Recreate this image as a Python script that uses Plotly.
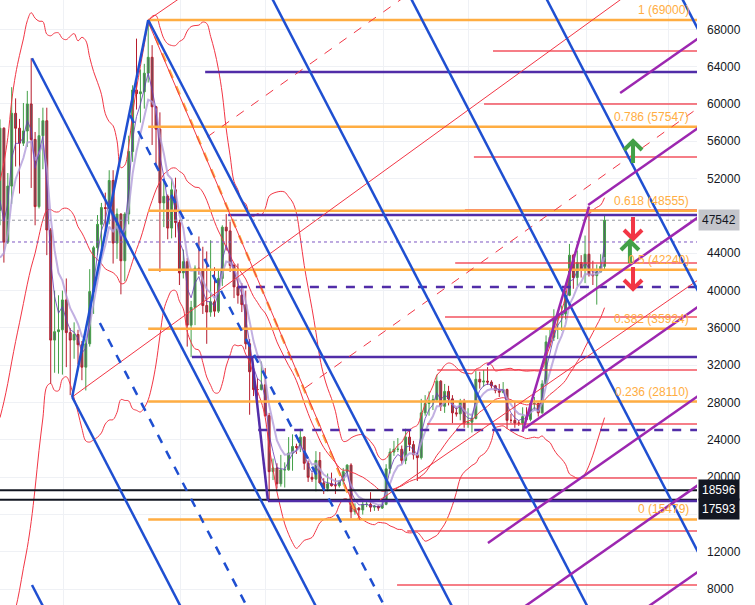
import numpy as np
import pandas as pd
import plotly.graph_objects as go

# ---------------- weekly BTC candles (index 0 = week of 15 Feb 2021) ----------------
open_ = [48600,57400,45200,51200,59000,57400,55800,57100,60000,56200,49000,56600,58200,46500,34700,35600,35800,39000,35500,34700,
         35300,34200,31800,34300,39900,44600,47100,48900,48800,51800,45100,48200,43200,48200,54900,61500,61100,61300,63300,65000,
         59700,57300,49400,50100,46700,50800,47300,41900,43100,36300,38200,42400,42200,38400,37700,38800,37800,41300,46800,46400,
         42700,40400,39500,38500,34300,31300,29400,29400,29900,26600,20600,21000,19300,20800,20800,22600,23300,23200,24300,21500,
         20000,19800,21800,19400,18800,19300,19100,19100,19600,20600,21300,16300,16700,16500,17100,17100,16800,16900,16700,17100,
         20900,22700,23000,23000,21800,24300,23500,22400,22100,26900,27900,28200,28300,30300,27600,29200,28400,26900,26800,28100,
         25800,25900,26300,30500,30200,30300,30200,29800,29300,29100,29400,26100,26100,25800,25800,26500,26200,27900,27900,26900,
         30000,34500,35000,37000,37400,37500,39500,43800,41400,43000,42300,43900,41700,41600,42000,42600]
high = [58350,57500,52600,61800,60600,58400,60100,61400,64900,57000,58500,59600,59600,46700,40000,39500,40000,41300,36000,36600,
        35800,34600,34800,42300,44800,48100,49400,50500,52900,52900,48800,48300,48400,56600,62000,67000,63700,64300,69000,66300,
        59800,59100,51900,50300,52000,52100,47600,44400,43500,38900,42700,45800,44700,44200,45400,42500,42300,47000,48200,47400,
        42900,42900,40800,40000,34800,31500,30600,32400,31700,26900,22000,21500,22400,21600,24300,24600,23600,25200,24400,21800,
        20500,22800,22700,19900,20400,20500,19900,19700,21000,21400,21500,17200,16800,17400,17400,18400,17000,17000,17400,21400,
        23100,23900,24200,23400,25200,25100,23900,22600,28400,28800,29200,28800,31000,30400,30000,29800,28800,27500,28400,28400,
        27400,26800,31400,31300,31500,31800,30400,29900,30000,30200,29500,26800,28200,26100,27500,27500,28000,28600,28000,30400,
        35200,35900,38000,37900,38400,40000,45000,43900,44300,43800,45900,49000,43200,42800,43900,48200]
low = [47000,43000,45000,49300,53300,50400,55500,55400,51000,47000,48800,53000,43800,30000,31200,31100,31000,31800,28800,32700,
       32100,30400,29300,34000,37500,43800,43900,46300,47100,42900,43400,39600,41000,47100,53800,59400,58000,59500,62300,55600,
       53500,42000,46800,45500,45600,45700,40600,41300,34000,32900,36300,41700,37500,34300,37200,37200,37600,40500,44300,42000,
       39200,38600,37700,33700,26700,28700,28000,29300,26500,17600,19700,18800,19000,18900,20700,20700,22500,22700,20800,19500,
       19500,18500,19300,18200,18500,19000,18200,18900,19200,20100,15600,16000,15500,16000,16800,16300,16400,16400,16600,17000,
       20400,22300,22700,21400,21400,22800,21900,19600,21900,26600,26600,27200,28200,27100,26900,27700,25800,26500,26100,25300,
       25300,24800,26200,29500,29700,29900,29500,29000,28600,29000,25200,25800,25300,25500,24900,26100,26000,27200,26500,26800,
       29900,33900,34600,34800,35700,36900,39400,40200,40500,41400,40800,41500,40600,38500,41900,42300]
close = [57400,45200,51200,59000,57400,55800,57100,60000,56200,49000,56600,58200,46500,34700,35600,35800,39000,35500,34700,35300,
         34200,31800,34300,39900,44600,47100,48900,48800,51800,45100,48200,43200,48200,54900,61500,61100,61300,63300,65000,59700,
         57300,49400,50100,46700,50800,47300,41900,43100,36300,38200,42400,42200,38400,37700,38800,37800,41300,46800,46400,42700,
         40400,39500,38500,34300,31300,29400,29400,29900,26600,20600,21000,19300,20800,20800,22600,23300,23200,24300,21500,20000,
         19800,21800,19400,18800,19300,19100,19100,19600,20600,21300,16300,16700,16500,17100,17100,16800,16900,16700,17100,20900,
         22700,23000,23000,21800,24300,23500,22400,22100,26900,27900,28200,28300,30300,27600,29200,28400,26900,26800,28100,25800,
         25900,26300,30500,30200,30300,30200,29800,29300,29100,29400,26100,26100,25800,25800,26500,26200,27900,27900,26900,30000,
         34500,35000,37000,37400,37500,39500,43800,41400,43000,42300,43900,41700,41600,42000,42600,47542]
# closes of the 19 weeks before the first candle (for the 20-week bands)
warmup_close = [11400,11500,13100,13800,15500,16000,18400,19700,19200,19200,23900,26300,33100,40200,36000,32300,34300,39300,47200]

# ---------------- drawings (week index, price) ----------------
fib_ratios = ["1", "0.786", "0.618", "0.5", "0.382", "0.236", "0"]
fib_prices = [69000, 57547, 48555, 42240, 35924, 28110, 15479]
fib_start = 38
fib_diag = [(38, 69000), (92, 15479)]

blue_solid = [(18.5, 28600, 38, 69000), (18.5, 28600, 46.5, 6000), (8.2, 64900, 81.2, 6000),
              (38, 69000, 116.1, 6000), (68.9, 72000, 150.8, 6000), (104.5, 72000, 186.4, 6000),
              (139.2, 72000, 221.1, 6000), (174, 72000, 256, 6000), (8.2, 8457, 11.25, 6000)]
blue_dashed = [(33.3, 58818, 98.8, 6000), (25.6, 36530, 63.5, 6000)]

violet_lines = [(159, 61175, 180, 67318), (150.8, 49175, 180, 57716), (124.9, 32030, 180, 48147),
                (134.6, 25280, 180, 38560), (125.1, 12957, 180, 29015), (134.0, 6000, 180, 19455),
                (165.7, 6000, 180, 10183), (134, 24900, 151, 49000)]

indigo_levels = [63425, 48102, 32887, 17457]
indigo_start = [52.6, 58.5, 49.2, 68.7]
indigo_dashed_levels = [40388, 25065]
indigo_dashed_start = [61, 66.2]
indigo_connector = [(64.6, 32887, 68.7, 17457)]

red_levels = [65675, 60000, 54318, 48638, 42959, 37173, 31495, 25709, 19922, 14243, 8457]
red_start = [126.4, 124.1, 121.5, 119.2, 116.7, 114.1, 112.1, 109.5, 106.9, 104.4, 101.8]
red_diag = [(38, 69000, 48.4, 72000), (18.5, 28600, 161.8, 72000), (38, 68783, 92.3, 15422),
            (97.4, 17560, 179, 41150)]
red_diag_dashed = [(53.1, 56460, 105.5, 72000), (78.2, 29566, 179, 59568)]

black_levels = [18596, 17593]
last_price = 47542
dotted_purple = 45210
arrows = [(162.3, 54745, "up"), (162.3, 46817, "down"), (161.5, 44031, "up"), (162.3, 41459, "down")]

y_ticks = list(range(8000, 68001, 4000))
hidden_ticks = [16000, 48000]
x_grid = [16.2, 46.2, 68, 98.2, 120, 150.3, 171.5]
X_MAX = 178.7

# ---------------- figure ----------------
n = len(close)
xs = list(range(n))
allc = pd.Series(warmup_close + close, dtype=float)
basis = allc.rolling(20).mean()
dev = allc.rolling(20).std(ddof=0)
upper = (basis + 2 * dev).iloc[-n:].values
lower = (basis - 2 * dev).iloc[-n:].values
basis = basis.iloc[-n:].values
ema_fast = allc.ewm(span=3, adjust=False).mean().iloc[-n:].values
ema_slow = allc.ewm(span=6, adjust=False).mean().iloc[-n:].values

fig = go.Figure()

RED = "#f23645"
BLUE = "#1f4fd1"
VIOLET = "#9c27b0"
INDIGO = "#512da8"
ORANGE = "#ffad42"


def seg(x0, y0, x1, y1, color, width, dash="solid", opacity=1.0):
    fig.add_trace(go.Scatter(x=[x0, x1], y=[y0, y1], mode="lines",
                             line=dict(color=color, width=width, dash=dash),
                             opacity=opacity, hoverinfo="skip", showlegend=False))


fig.add_trace(go.Candlestick(x=xs, open=open_, high=high, low=low, close=close,
                             increasing=dict(line=dict(color="#43a047", width=1), fillcolor="#59606a"),
                             decreasing=dict(line=dict(color="#b71c2c", width=1), fillcolor="#59606a"),
                             whiskerwidth=0, showlegend=False, hoverinfo="skip"))

for band in (upper, basis, lower):
    fig.add_trace(go.Scatter(x=xs, y=band, mode="lines", line=dict(color=RED, width=1, shape="spline"),
                             hoverinfo="skip", showlegend=False))
fig.add_trace(go.Scatter(x=xs, y=ema_slow, mode="lines", line=dict(color="#b39ddb", width=2),
                         opacity=0.8, hoverinfo="skip", showlegend=False))
fig.add_trace(go.Scatter(x=xs, y=ema_fast, mode="lines", line=dict(color="#673ab7", width=1),
                         opacity=0.8, hoverinfo="skip", showlegend=False))

# horizontal price lines
seg(0, last_price, X_MAX, last_price, "#9598a1", 1, "dot")
seg(0, dotted_purple, X_MAX, dotted_purple, "#7e57c2", 1, "dot")
for lv in black_levels:
    seg(0, lv, X_MAX, lv, "#131722", 2)

# red horizontal rays
for lv, st in zip(red_levels, red_start):
    seg(st, lv, X_MAX, lv, RED, 1.5, opacity=0.85)

# fib levels
for lv in fib_prices:
    seg(fib_start, lv, X_MAX, lv, ORANGE, 2.5)
seg(fib_diag[0][0], fib_diag[0][1], fib_diag[1][0], fib_diag[1][1], ORANGE, 2.5, "dash")

# indigo horizontals
for lv, st in zip(indigo_levels, indigo_start):
    seg(st, lv, X_MAX, lv, INDIGO, 2.5)
for lv, st in zip(indigo_dashed_levels, indigo_dashed_start):
    seg(st, lv, X_MAX, lv, INDIGO, 2.5, "dash")
for a in indigo_connector:
    seg(*a, INDIGO, 2.5)

# red diagonals
for a in red_diag:
    seg(*a, RED, 1)
for a in red_diag_dashed:
    seg(*a, RED, 1, "dash")

# blue pitchfork lines
for a in blue_solid:
    seg(*a, BLUE, 2.5)
for a in blue_dashed:
    seg(*a, BLUE, 2.5, "dash")

# violet channel
for a in violet_lines:
    seg(*a, VIOLET, 2.5)

shapes = []
for xa, ya, d in arrows:
    col = "#43a047" if d == "up" else "#f23645"
    if d == "up":
        path = "M -9 3 L 0 12 L 9 3 M 0 12 L 0 -10"
    else:
        path = "M -9 -3 L 0 -12 L 9 -3 M 0 -12 L 0 10"
    shapes.append(dict(type="path", xref="x", yref="y", xsizemode="pixel", ysizemode="pixel",
                       xanchor=xa, yanchor=ya, path=path, line=dict(color=col, width=4)))

annotations = []
for r, lv in zip(fib_ratios, fib_prices):
    annotations.append(dict(x=177.2, y=lv, xref="x", yref="y", text=f"{r} ({lv})", showarrow=False,
                            xanchor="right", yanchor="bottom", yshift=1,
                            font=dict(color=ORANGE, size=12, family="Liberation Sans")))

label_specs = [(last_price, "#c3c5cb", "#131722", 0), (black_levels[0], "#131722", "#ffffff", 0),
               (black_levels[1], "#131722", "#ffffff", -9)]
for lv, bg, fg, ys in label_specs:
    annotations.append(dict(x=1.0, y=lv, xref="paper", yref="y", text=f"{lv}", showarrow=False,
                            xanchor="left", yanchor="middle", xshift=1, yshift=ys, bgcolor=bg, borderpad=3,
                            font=dict(color=fg, size=12, family="Liberation Sans")))

fig.update_layout(
    width=755, height=605,
    margin=dict(l=0, r=58, t=0, b=0),
    paper_bgcolor="white", plot_bgcolor="white",
    shapes=shapes, annotations=annotations,
    xaxis=dict(range=[0, X_MAX], showticklabels=False, ticks="", tickvals=x_grid,
               showgrid=True, gridcolor="#eff1f5", gridwidth=1, zeroline=False,
               rangeslider=dict(visible=False), fixedrange=True),
    yaxis=dict(range=[6313, 71140], side="right", tickvals=y_ticks,
               ticktext=["" if v in hidden_ticks else str(v) for v in y_ticks],
               showgrid=True, gridcolor="#eff1f5", gridwidth=1, zeroline=False, ticks="",
               ticklabelstandoff=9, tickfont=dict(color="#131722", size=12, family="Liberation Sans"),
               showline=False, fixedrange=True),
    showlegend=False,
)

fig.write_html("out.html", config={"displayModeBar": False},
               post_script="document.body.style.margin='0px';document.body.style.overflow='hidden';")
